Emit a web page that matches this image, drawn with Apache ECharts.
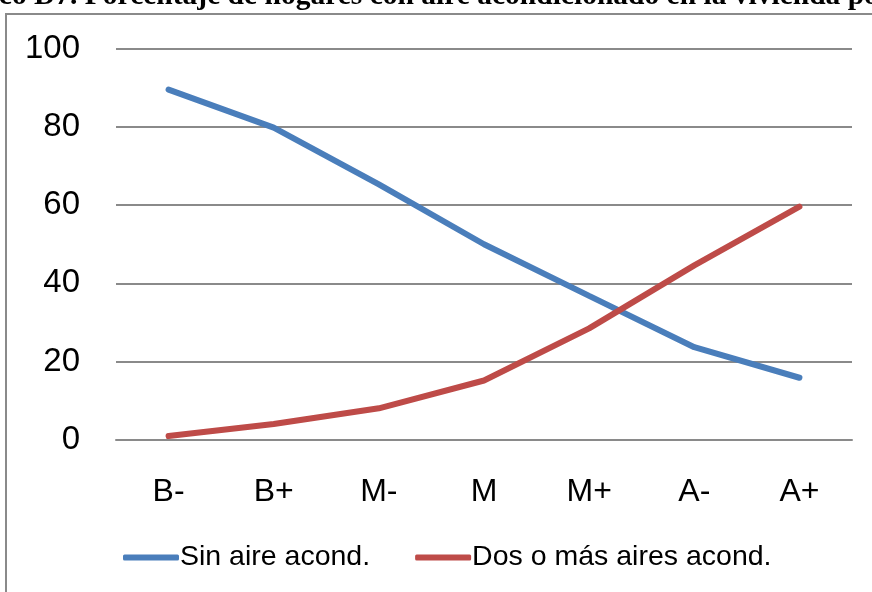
<!DOCTYPE html>
<html>
<head>
<meta charset="utf-8">
<script src="https://cdn.jsdelivr.net/npm/echarts@6/dist/echarts.min.js"></script>
<style>html,body{margin:0;padding:0;background:#fff}#c{width:872px;height:592px}</style>
</head>
<body>
<div id="c"></div>
<script>
const titleText = 'Gráfico D7. Porcentaje de hogares con aire acondicionado en la vivienda por nivel socioeconómico';
const categories = ['B-', 'B+', 'M-', 'M', 'M+', 'A-', 'A+'];
const seriesNames = ['Sin aire acond.', 'Dos o más aires acond.'];
const sinAire = [89.5, 79.8, 65.3, 50.0, 36.8, 23.7, 15.9];
const dosOMas = [1.0, 4.1, 8.1, 15.2, 28.5, 44.6, 59.6];
const yTicks = [0, 20, 40, 60, 80, 100];

const chart = echarts.init(document.getElementById('c'), null, {renderer: 'canvas'});
const font = '"Liberation Sans", Arial, sans-serif';
chart.setOption({
  animation: false,
  backgroundColor: '#fff',
  graphic: [
    {type: 'rect', shape: {x: 6, y: 14, width: 900, height: 620}, style: {fill: 'none', stroke: '#8a8a8a', lineWidth: 2}, z: 0},
    {type: 'text', x: -70, y: -4, style: {text: titleText, font: 'bold 29.5px "Liberation Serif", "Times New Roman", serif', fill: '#000', verticalAlign: 'middle', align: 'left'}, z: 10}
  ],
  legend: {
    top: 538,
    left: 118,
    itemWidth: 56,
    itemHeight: 6,
    itemGap: 45,
    icon: 'roundRect',
    textStyle: {fontFamily: font, fontSize: 28.5, color: '#000', padding: [0, 0, 0, -4]},
    data: seriesNames
  },
  grid: {left: 116, right: 20, top: 48.5, bottom: 152},
  xAxis: {
    type: 'category',
    data: categories,
    boundaryGap: true,
    axisLine: {show: true, lineStyle: {color: '#8a8a8a', width: 2}},
    axisTick: {show: false},
    axisLabel: {fontFamily: font, fontSize: 32, color: '#000', margin: 36}
  },
  yAxis: {
    type: 'value',
    min: yTicks[0],
    max: yTicks[yTicks.length - 1],
    interval: yTicks[1] - yTicks[0],
    axisLine: {show: false},
    axisTick: {show: false},
    splitLine: {lineStyle: {color: '#8a8a8a', width: 2}},
    axisLabel: {fontFamily: font, fontSize: 33, color: '#000', margin: 36}
  },
  series: [
    {name: seriesNames[0], type: 'line', data: sinAire, symbol: 'none', lineStyle: {color: '#4A7EBB', width: 6, cap: 'round'}, itemStyle: {color: '#4A7EBB'}},
    {name: seriesNames[1], type: 'line', data: dosOMas, symbol: 'none', lineStyle: {color: '#BE4B48', width: 6, cap: 'round'}, itemStyle: {color: '#BE4B48'}}
  ]
});
</script>
</body>
</html>
